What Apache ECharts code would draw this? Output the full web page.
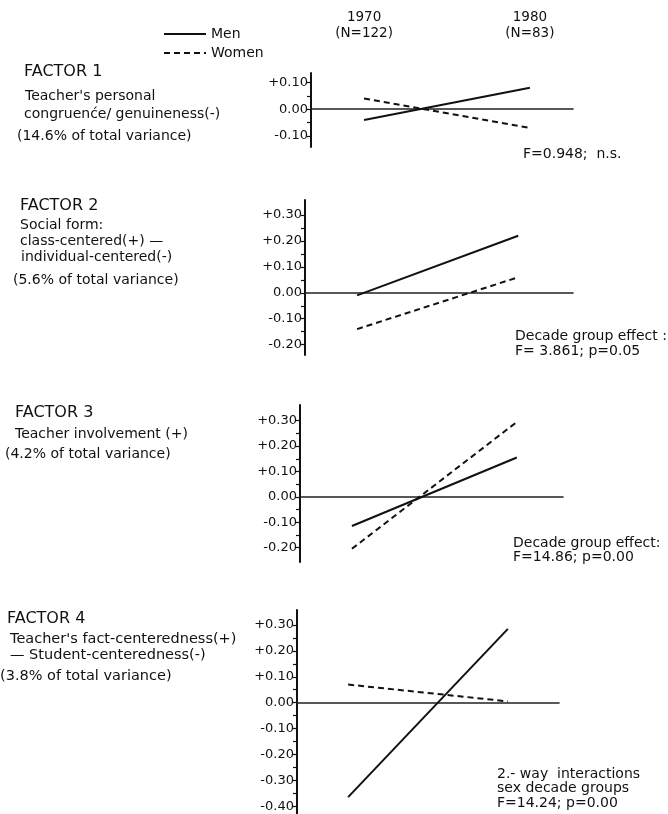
<!DOCTYPE html>
<html>
<head>
<meta charset="utf-8">
<script src="https://cdn.jsdelivr.net/npm/echarts@6/dist/echarts.min.js"></script>
<style>
html,body{margin:0;padding:0;background:#fff;}
#chart{width:668px;height:814px;}
</style>
</head>
<body>
<div id="chart"></div>
<script>
// ---- data ----
const years = [1970, 1980];
const yearHeader = ['1970\n(N=122)', '1980\n(N=83)'];
const seriesNames = ['Men', 'Women'];

const factor1Men = [-0.04, 0.08];
const factor1Women = [0.04, -0.07];
const factor2Men = [-0.01, 0.22];
const factor2Women = [-0.14, 0.06];
const factor3Men = [-0.115, 0.155];
const factor3Women = [-0.205, 0.295];
const factor4Men = [-0.365, 0.285];
const factor4Women = [0.07, 0.005];

const factor1TickLabels = [0.1, 0, -0.1];
const factor2TickLabels = [0.3, 0.2, 0.1, 0, -0.1, -0.2];
const factor3TickLabels = [0.3, 0.2, 0.1, 0, -0.1, -0.2];
const factor4TickLabels = [0.3, 0.2, 0.1, 0, -0.1, -0.2, -0.3, -0.4];

const factor1Text = ['FACTOR 1', "Teacher's personal", 'congruenće/ genuineness(-)', '(14.6% of total variance)'];
const factor2Text = ['FACTOR 2', 'Social form:', 'class-centered(+) —', 'individual-centered(-)', '(5.6% of total variance)'];
const factor3Text = ['FACTOR 3', 'Teacher involvement (+)', '(4.2% of total variance)'];
const factor4Text = ['FACTOR 4', "Teacher's fact-centeredness(+)", '— Student-centeredness(-)', '(3.8% of total variance)'];

const factor1Note = ['F=0.948;  n.s.'];
const factor2Note = ['Decade group effect :', 'F= 3.861; p=0.05'];
const factor3Note = ['Decade group effect:', 'F=14.86; p=0.00'];
const factor4Note = ['2.- way  interactions', 'sex decade groups', 'F=14.24; p=0.00'];

// ---- layout (positions / styles only) ----
const panels = [
  {men: factor1Men, women: factor1Women, labels: factor1TickLabels,
   left: 311, right: 573, top: 73, height: 74, ymin: -0.141, ymax: 0.135, xmin: 1966.8, xmax: 1982.6},
  {men: factor2Men, women: factor2Women, labels: factor2TickLabels,
   left: 305, right: 573, top: 200, height: 155, ymin: -0.24, ymax: 0.358, xmin: 1966.77, xmax: 1983.4},
  {men: factor3Men, women: factor3Women, labels: factor3TickLabels,
   left: 300, right: 563, top: 405, height: 157, ymin: -0.257, ymax: 0.362, xmin: 1966.85, xmax: 1982.8},
  {men: factor4Men, women: factor4Women, labels: factor4TickLabels,
   left: 297, right: 559, top: 610, height: 204, ymin: -0.43, ymax: 0.358, xmin: 1966.8, xmax: 1983.2}
];

const FONT = '"DejaVu Sans", sans-serif';
const INK = '#111';

function fmt(v) {
  if (Math.abs(v) < 1e-9) return '0.00';
  return (v > 0 ? '+' : '-') + Math.abs(v).toFixed(2);
}
function midTicks(labels) {
  const out = [];
  for (let i = 0; i < labels.length; i++) {
    out.push(labels[i]);
    if (i + 1 < labels.length) out.push((labels[i] + labels[i + 1]) / 2);
  }
  return out;
}

const grids = [], xAxes = [], yAxes = [], series = [];
panels.forEach((p, i) => {
  grids.push({left: p.left, top: p.top, width: p.right - p.left, height: p.height, containLabel: false});
  xAxes.push({
    gridIndex: i, type: 'value', min: p.xmin, max: p.xmax,
    axisLine: {show: true, onZero: true, lineStyle: {color: '#222', width: 1.6}},
    axisTick: {show: false}, axisLabel: {show: false}, splitLine: {show: false}
  });
  yAxes.push({
    gridIndex: i, type: 'value', min: p.ymin, max: p.ymax,
    axisLine: {show: true, onZero: false, lineStyle: {color: INK, width: 2}},
    axisTick: {show: true, customValues: midTicks(p.labels), length: 4, lineStyle: {color: INK, width: 1.2}},
    axisLabel: {customValues: p.labels, formatter: fmt, color: INK, fontSize: 13, fontFamily: FONT, margin: 3},
    splitLine: {show: false}
  });
  series.push({
    name: seriesNames[0], type: 'line', xAxisIndex: i, yAxisIndex: i, symbol: 'none',
    lineStyle: {color: INK, width: 2, type: 'solid'},
    itemStyle: {color: INK},
    data: years.map((y, k) => [y, p.men[k]])
  });
  series.push({
    name: seriesNames[1], type: 'line', xAxisIndex: i, yAxisIndex: i, symbol: 'none',
    lineStyle: {color: INK, width: 2, type: [6, 4]},
    itemStyle: {color: INK},
    data: years.map((y, k) => [y, p.women[k]])
  });
});

// header axis showing the decade groups above panel 1
xAxes.push({
  gridIndex: 0, type: 'value', position: 'top', min: panels[0].xmin, max: panels[0].xmax,
  axisLine: {show: false, onZero: false}, axisTick: {show: false}, splitLine: {show: false},
  axisLabel: {customValues: years, formatter: v => yearHeader[years.indexOf(v)],
    color: INK, fontSize: 13.5, fontFamily: FONT, lineHeight: 16, margin: 32}
});

function textBlock(lines, x, ys, opts) {
  return lines.map((t, k) => ({
    type: 'text', left: x + ((opts && opts.dx && opts.dx[k]) || 0), top: ys[k],
    style: {text: t, fill: INK,
      font: ((k === 0 && opts && opts.head) ? '16px ' : ((opts && opts.size) || 14) + 'px ') + FONT}
  }));
}

const graphics = [].concat(
  textBlock(factor1Text, 24, [64, 89, 107, 129], {head: true, dx: [0, 1, 0, -7]}),
  textBlock(factor2Text, 20, [198, 218, 234, 250, 273], {head: true, dx: [0, 0, 0, 1, -7]}),
  textBlock(factor3Text, 15, [405, 427, 447], {head: true, dx: [0, 0, -10]}),
  textBlock(factor4Text, 7, [611, 632, 648, 669], {head: true, dx: [0, 3, 3, -7], size: 14.5}),
  textBlock(factor1Note, 523, [147]),
  textBlock(factor2Note, 515, [329, 344]),
  textBlock(factor3Note, 513, [536, 550]),
  textBlock(factor4Note, 497, [767, 781, 796])
);

const chart = echarts.init(document.getElementById('chart'), null, {renderer: 'canvas'});
chart.setOption({
  backgroundColor: '#fff',
  animation: false,
  textStyle: {fontFamily: FONT},
  legend: {
    data: seriesNames, orient: 'vertical', left: 158, top: 22,
    itemWidth: 42, itemHeight: 12, itemGap: 5,
    itemStyle: {opacity: 0, borderWidth: 0},
    lineStyle: {width: 2},
    textStyle: {color: INK, fontSize: 14, fontFamily: FONT}
  },
  grid: grids, xAxis: xAxes, yAxis: yAxes, series: series, graphic: graphics
});
</script>
</body>
</html>
